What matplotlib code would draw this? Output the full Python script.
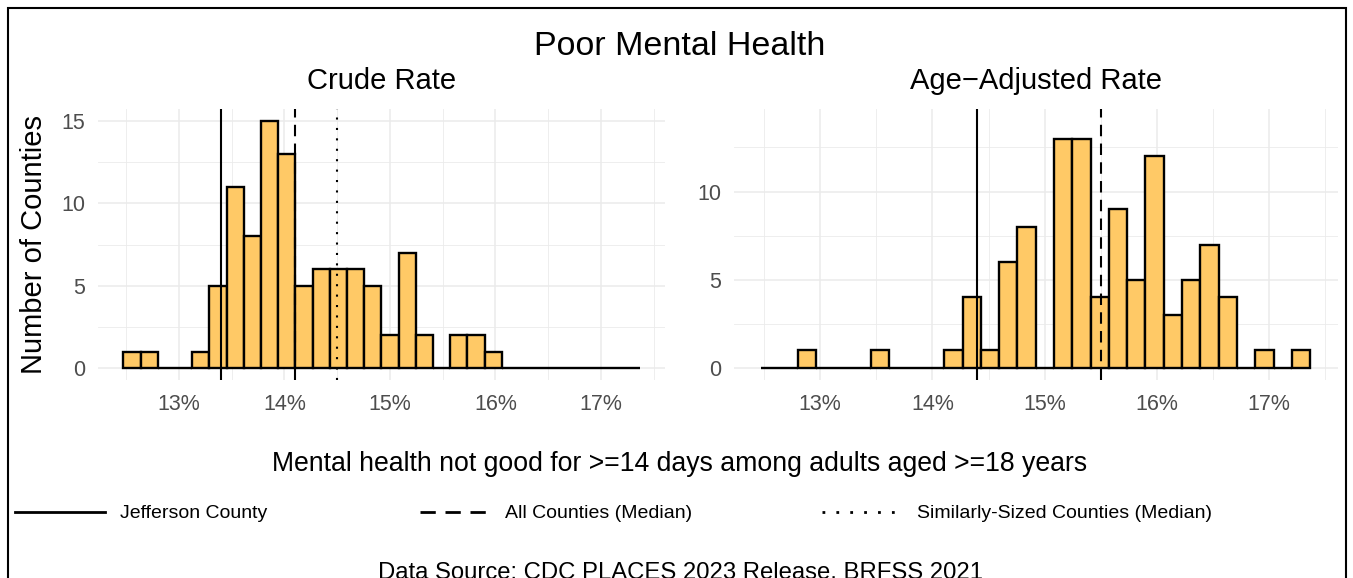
import numpy as np
import matplotlib
matplotlib.use("Agg")
import matplotlib.pyplot as plt
from matplotlib.lines import Line2D
from matplotlib.patches import Rectangle
from matplotlib.ticker import FuncFormatter, MultipleLocator

plt.rcParams["font.family"] = ["Liberation Sans", "DejaVu Sans"]

# histogram bins shared by both panels (30 bins)
bin_start = 12.475
bin_width = 0.163
crude_counts = [1, 1, 0, 0, 1, 5, 11, 8, 15, 13, 5, 6, 6, 6, 5,
                2, 7, 2, 0, 2, 2, 1, 0, 0, 0, 0, 0, 0, 0, 0]
adjusted_counts = [0, 0, 1, 0, 0, 0, 1, 0, 0, 0, 1, 4, 1, 6, 8,
                   0, 13, 13, 4, 9, 5, 12, 3, 5, 7, 4, 0, 1, 0, 1]

# reference lines (percent)
crude_refs = {"jefferson": 13.4, "all": 14.1, "similar": 14.5}
adjusted_refs = {"jefferson": 14.4, "all": 15.5, "similar": None}

panel_titles = ["Crude Rate", "Age\u2212Adjusted Rate"]
legend_labels = ["Jefferson County", "All Counties (Median)",
                 "Similarly-Sized Counties (Median)"]

W, H = 1353, 578
FILL = "#FFC966"
TICK_GREY = "#4D4D4D"
GRID = "#EBEBEB"

n_bins = len(crude_counts)
lefts = bin_start + bin_width * np.arange(n_bins)
x_lo = bin_start - 0.05 * n_bins * bin_width
x_hi = bin_start + 1.05 * n_bins * bin_width

fig = plt.figure(figsize=(W / 100, H / 100), dpi=100)


def px(x0, y0, x1, y1):
    return [x0 / W, 1 - y1 / H, (x1 - x0) / W, (y1 - y0) / H]


line_styles = {
    "jefferson": dict(linestyle="-"),
    "all": dict(linestyle=(0, (5.5, 3.5))),
    "similar": dict(linestyle=(0, (1, 4))),
}

panels = [
    (px(97.5, 108.6, 665.4, 380.4), crude_counts, crude_refs, panel_titles[0], [0, 5, 10, 15]),
    (px(733.8, 108.6, 1337.6, 380.4), adjusted_counts, adjusted_refs, panel_titles[1], [0, 5, 10]),
]

for rect, counts, refs, title, yticks in panels:
    ax = fig.add_axes(rect)
    ax.bar(lefts, counts, width=bin_width, align="edge", color=FILL,
           edgecolor="black", linewidth=1.7, zorder=2)
    for key, val in refs.items():
        if val is None:
            continue
        ax.axvline(val, color="black", linewidth=1.5, zorder=3,
                   dash_capstyle="butt", **line_styles[key])

    ymax = max(max(counts), 14) if yticks[-1] == 10 else max(counts)
    ax.set_xlim(x_lo, x_hi)
    ax.set_ylim(-0.05 * ymax, 1.05 * ymax)
    ax.xaxis.set_major_locator(MultipleLocator(1))
    ax.xaxis.set_minor_locator(MultipleLocator(0.5))
    ax.xaxis.set_major_formatter(FuncFormatter(lambda v, p: f"{v:.0f}%"))
    ax.set_yticks(yticks)
    ax.yaxis.set_minor_locator(MultipleLocator(2.5))
    ax.grid(which="major", color=GRID, linewidth=1.1, zorder=0)
    ax.grid(which="minor", color=GRID, linewidth=0.6, zorder=0)
    ax.set_axisbelow(True)
    for s in ax.spines.values():
        s.set_visible(False)
    ax.tick_params(which="both", length=0, labelsize=15.5, labelcolor=TICK_GREY)
    ax.tick_params(axis="x", pad=10)
    ax.tick_params(axis="y", pad=9)
    ax.set_title(title, fontsize=21, pad=14)

fig.axes[0].set_ylabel("Number of Counties", fontsize=21, labelpad=9)

fig.text(680 / W, 1 - 55 / H, "Poor Mental Health", fontsize=24.5,
         ha="center", va="baseline")
fig.text(680 / W, 1 - 471 / H,
         "Mental health not good for >=14 days among adults aged >=18 years",
         fontsize=19.2, ha="center", va="baseline")

# legend row
leg_items = [(15, 105, 120, "jefferson"), (420, 495, 505, "all"),
             (822, 900, 917, "similar")]
for (x0, x1, xt, key), label in zip(leg_items, legend_labels):
    fig.add_artist(Line2D([x0 / W, x1 / W], [1 - 512 / H, 1 - 512 / H],
                          transform=fig.transFigure, color="black",
                          linewidth=2.0, dash_capstyle="butt",
                          **line_styles[key]))
    fig.text(xt / W, 1 - 513 / H, label, fontsize=14, ha="left", va="center")

fig.text(680 / W, 1 - 579 / H, "Data Source: CDC PLACES 2023 Release, BRFSS 2021",
         fontsize=17.2, ha="center", va="baseline")

fig.add_artist(Rectangle((8 / W, -0.1), (1346 - 8) / W, 1.1 - 8 / H,
                         transform=fig.transFigure, fill=False,
                         edgecolor="black", linewidth=1.5))

fig.savefig("out.png", dpi=100)
